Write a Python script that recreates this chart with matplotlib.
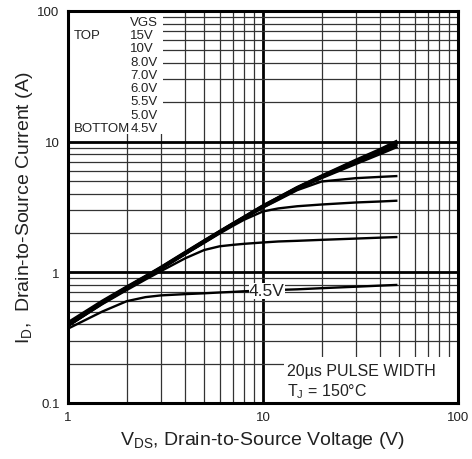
import matplotlib
matplotlib.use('Agg')
import matplotlib.pyplot as plt
from matplotlib.patches import Rectangle

plt.rcParams['font.family'] = ['Liberation Sans', 'DejaVu Sans']

# drain-source voltage samples (V)
vds = [1, 1.5, 2, 2.5, 3, 4, 5, 6, 7, 8, 10, 12, 15, 20, 30, 40, 49]

# drain current (A) per gate voltage
id_15v = [0.41, 0.60, 0.77, 0.93, 1.09, 1.42, 1.74, 2.05, 2.35, 2.64, 3.22, 3.72, 4.45, 5.45, 7.2, 8.7, 10.1]
id_10v = [0.40, 0.59, 0.76, 0.92, 1.08, 1.41, 1.73, 2.04, 2.34, 2.63, 3.20, 3.70, 4.42, 5.40, 7.1, 8.55, 9.9]
id_8v = [0.40, 0.59, 0.76, 0.92, 1.08, 1.40, 1.72, 2.03, 2.33, 2.62, 3.19, 3.68, 4.40, 5.35, 7.0, 8.4, 9.6]
id_7v = [0.39, 0.58, 0.75, 0.91, 1.07, 1.39, 1.71, 2.02, 2.32, 2.61, 3.17, 3.65, 4.35, 5.30, 6.8, 8.1, 9.2]
id_6v = [0.39, 0.58, 0.75, 0.91, 1.07, 1.39, 1.70, 2.01, 2.30, 2.58, 3.12, 3.58, 4.25, 4.95, 5.25, 5.37, 5.45]
id_55v = [0.39, 0.58, 0.75, 0.90, 1.06, 1.38, 1.68, 1.98, 2.26, 2.52, 2.92, 3.08, 3.20, 3.30, 3.42, 3.48, 3.53]
id_5v = [0.39, 0.57, 0.73, 0.88, 1.02, 1.28, 1.48, 1.58, 1.62, 1.65, 1.69, 1.72, 1.74, 1.77, 1.81, 1.84, 1.86]
id_45v = [0.37, 0.50, 0.60, 0.645, 0.665, 0.68, 0.69, 0.70, 0.707, 0.715, 0.725, 0.732, 0.74, 0.755, 0.775, 0.79, 0.80]

legend_lines = ['VGS', '15V', '10V', '8.0V', '7.0V', '6.0V', '5.5V', '5.0V', '4.5V']

fig = plt.figure(figsize=(4.72, 4.60), dpi=100)
ax = fig.add_axes([0.144, 0.122, 0.826, 0.852])
ax.set_xscale('log')
ax.set_yscale('log')
ax.set_xlim(1, 100)
ax.set_ylim(0.1, 100)

ax.grid(which='major', color='black', lw=2.0, zorder=1)
ax.grid(which='minor', color='#333333', lw=0.9, zorder=1)
ax.tick_params(which='both', length=0, labelsize=9.5, labelcolor='#222222', pad=6)
ax.set_xticks([1, 10, 100])
ax.set_xticklabels(['1', '10', '100'])
ax.set_yticks([0.1, 1, 10, 100])
ax.set_yticklabels(['0.1', '1', '10', '100'])
for s in ax.spines.values():
    s.set_linewidth(2.2)
    s.set_zorder(6)

for cur in [id_7v, id_8v, id_10v, id_15v]:
    ax.plot(vds, cur, color='black', lw=2.4, zorder=4, solid_capstyle='butt')
for cur in [id_6v, id_55v, id_5v, id_45v]:
    ax.plot(vds, cur, color='black', lw=1.7, zorder=4, solid_capstyle='butt')

# white boxes hiding the grid behind the texts
ax.add_patch(Rectangle((0, 0.686), 0.244, 0.314, transform=ax.transAxes,
                       facecolor='white', edgecolor='none', zorder=2))
ax.add_patch(Rectangle((0.553, 0), 0.447, 0.118, transform=ax.transAxes,
                       facecolor='white', edgecolor='none', zorder=2))

tc = '#222222'
for i, t in enumerate(legend_lines):
    ax.text(0.160, 0.973 - i * 0.034, t, transform=ax.transAxes, fontsize=9.5,
            color=tc, va='center', ha='left', zorder=5)
ax.text(0.016, 0.939, 'TOP', transform=ax.transAxes, fontsize=9.5, color=tc,
        va='center', zorder=5)
ax.text(0.016, 0.701, 'BOTTOM', transform=ax.transAxes, fontsize=9.5, color=tc,
        va='center', zorder=5)

ax.text(10.5, 0.72, '4.5V', fontsize=12.5, color=tc, ha='center', va='center', zorder=5,
        bbox=dict(facecolor='white', edgecolor='none', pad=0.3))

ax.text(0.562, 0.083, '20\u00b5s PULSE WIDTH', transform=ax.transAxes, fontsize=11.5,
        color=tc, va='center', zorder=5)
ax.text(0.562, 0.032, 'T$_\\mathregular{J}$ = 150\u00b0C', transform=ax.transAxes,
        fontsize=11.5, color=tc, va='center', zorder=5)

ax.set_xlabel('V$_\\mathregular{DS}$, Drain-to-Source Voltage (V)', fontsize=14,
              color=tc, labelpad=4)
ax.set_ylabel('I$_\\mathregular{D}$,  Drain-to-Source Current (A)', fontsize=14,
              color=tc, labelpad=2)

fig.savefig('out.png', dpi=100)
